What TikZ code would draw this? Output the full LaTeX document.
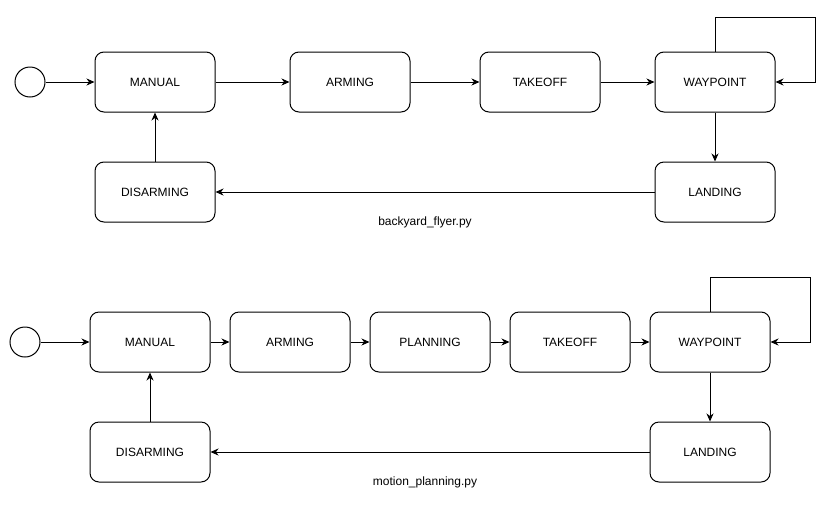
\documentclass[tikz,border=0pt]{standalone}
\usepackage{fontspec}
\setmainfont{Liberation Sans}
\usetikzlibrary{arrows.meta}
\begin{document}
\begin{tikzpicture}[x=1pt,y=-1pt,
  state/.style={draw,line width=1pt,rounded corners=9pt,minimum width=120pt,minimum height=60pt,inner sep=0pt,font=\fontsize{12}{14}\selectfont},
  startc/.style={draw,line width=1pt,circle,minimum size=30pt,inner sep=0pt},
  conn/.style={line width=1pt,-{Stealth[length=8pt,width=7pt,inset=2.5pt]}},
  caption/.style={font=\fontsize{12}{14}\selectfont}]
\useasboundingbox (0,0) rectangle (834,509);
% top diagram
\node[startc] (s1) at (30,82) {};
\node[state] (m1) at (155,82) {MANUAL};
\node[state] (a1) at (350,82) {ARMING};
\node[state] (t1) at (540,82) {TAKEOFF};
\node[state] (w1) at (715,82) {WAYPOINT};
\node[state] (l1) at (715,192) {LANDING};
\node[state] (d1) at (155,192) {DISARMING};
\node[caption] (c1) at (425,222) {backyard\_flyer.py};
\coordinate (w1a) at (715,17);
\coordinate (w1b) at (815,17);
\coordinate (w1c) at (815,82);
\draw[conn] (s1) -- (m1);
\draw[conn] (m1) -- (a1);
\draw[conn] (a1) -- (t1);
\draw[conn] (t1) -- (w1);
\draw[conn] (w1.north) -- (w1a) -- (w1b) -- (w1c) -- (w1.east);
\draw[conn] (w1) -- (l1);
\draw[conn] (l1) -- (d1);
\draw[conn] (d1) -- (m1);
% bottom diagram
\node[startc] (s2) at (25,342) {};
\node[state] (m2) at (150,342) {MANUAL};
\node[state] (a2) at (290,342) {ARMING};
\node[state] (p2) at (430,342) {PLANNING};
\node[state] (t2) at (570,342) {TAKEOFF};
\node[state] (w2) at (710,342) {WAYPOINT};
\node[state] (l2) at (710,452) {LANDING};
\node[state] (d2) at (150,452) {DISARMING};
\node[caption] (c2) at (425,482) {motion\_planning.py};
\coordinate (w2a) at (710,277);
\coordinate (w2b) at (810,277);
\coordinate (w2c) at (810,342);
\draw[conn] (s2) -- (m2);
\draw[conn] (m2) -- (a2);
\draw[conn] (a2) -- (p2);
\draw[conn] (p2) -- (t2);
\draw[conn] (t2) -- (w2);
\draw[conn] (w2.north) -- (w2a) -- (w2b) -- (w2c) -- (w2.east);
\draw[conn] (w2) -- (l2);
\draw[conn] (l2) -- (d2);
\draw[conn] (d2) -- (m2);
\end{tikzpicture}
\end{document}
